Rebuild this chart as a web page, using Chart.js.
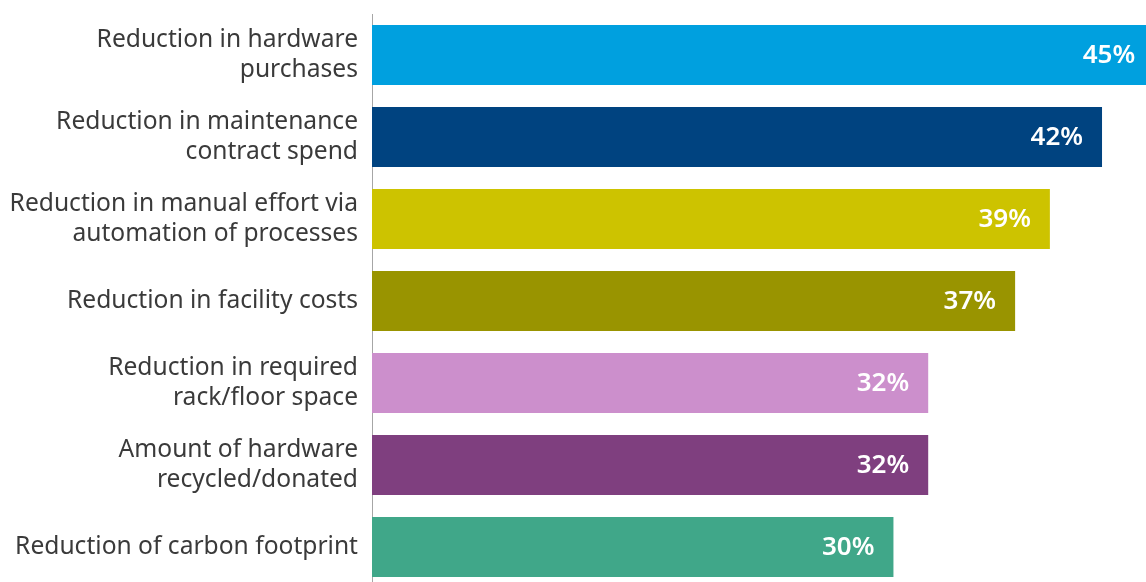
<!DOCTYPE html>
<html>
<head>
<meta charset="utf-8">
<script src="https://cdn.jsdelivr.net/npm/chart.js@4/dist/chart.umd.min.js"></script>
<style>
  html, body { margin: 0; padding: 0; background: #fff; overflow: hidden; }
  #wrap { width: 1146px; height: 592px; }
</style>
</head>
<body>
<div id="wrap"><canvas id="barChart"></canvas></div>
<script>
// chart data
const categories = [
    ["Reduction in hardware", "purchases"],
    ["Reduction in maintenance", "contract spend"],
    ["Reduction in manual effort via", "automation of processes"],
    "Reduction in facility costs",
    ["Reduction in required", "rack/floor space"],
    ["Amount of hardware", "recycled/donated"],
    "Reduction of carbon footprint"
];
const values = [45, 42, 39, 37, 32, 32, 30];
const barColors = ["#00a0df", "#004380", "#cdc300", "#999400", "#cc8fcc", "#7f3f7f", "#40a789"];

const FONT = "'Source Sans Pro', 'Noto Sans', sans-serif";

// draws the % labels inside the bar ends
const valueLabels = {
    id: "valueLabels",
    afterDatasetsDraw(chart) {
        const ctx = chart.ctx;
        const meta = chart.getDatasetMeta(0);
        ctx.save();
        ctx.font = "600 26px " + FONT;
        ctx.fillStyle = "#ffffff";
        ctx.textAlign = "right";
        ctx.textBaseline = "middle";
        meta.data.forEach((bar, i) => {
            ctx.fillText(values[i] + "%", bar.x - 19, bar.y + 1);
        });
        ctx.restore();
    }
};

new Chart(document.getElementById("barChart"), {
    type: "bar",
    data: {
        labels: categories,
        datasets: [{
            data: values,
            backgroundColor: barColors,
            borderWidth: 0,
            categoryPercentage: 1,
            barPercentage: 0.732
        }]
    },
    options: {
        indexAxis: "y",
        responsive: true,
        maintainAspectRatio: false,
        animation: false,
        layout: { padding: { top: 14, right: 0, bottom: 4, left: 0 } },
        plugins: {
            legend: { display: false },
            tooltip: { enabled: false }
        },
        scales: {
            x: {
                min: 0,
                max: 44.53,
                display: false
            },
            y: {
                afterFit(scale) {
                    scale.width = 372;
                    scale.paddingTop = 0;
                    scale.paddingBottom = 0;
                },
                grid: { display: false, drawTicks: false },
                border: { display: true, color: "#a6a6a6", width: 1 },
                ticks: {
                    padding: 14,
                    color: "#3a3a3a",
                    font: { family: FONT, size: 24.6, lineHeight: 1.22 },
                    autoSkip: false
                }
            }
        }
    },
    plugins: [valueLabels]
});
</script>
</body>
</html>
